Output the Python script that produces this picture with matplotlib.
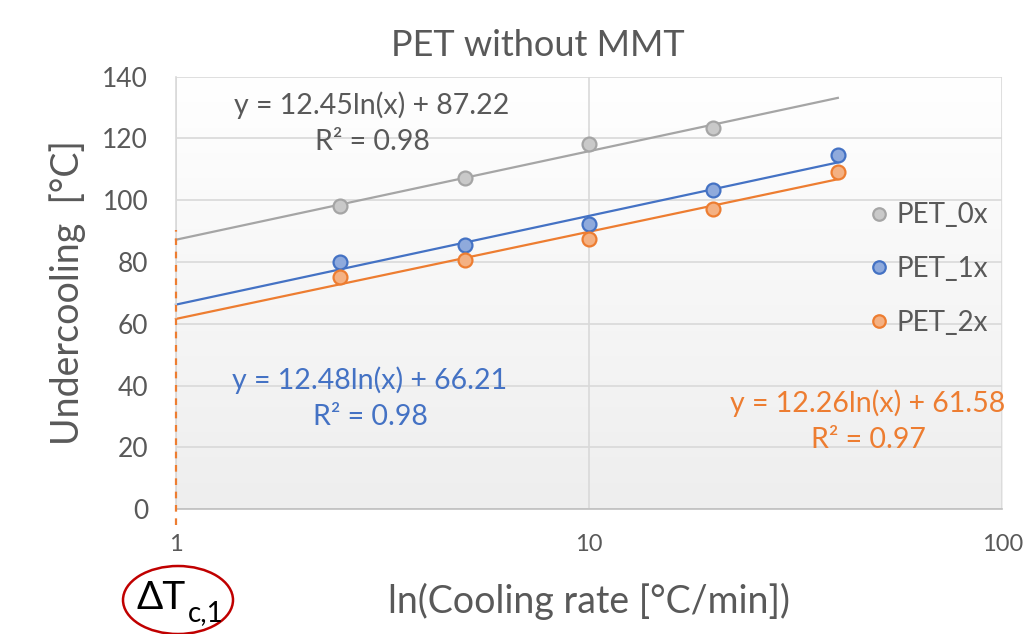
"""PET without MMT — undercooling vs cooling rate with log trendlines."""
import numpy as np
import matplotlib
matplotlib.use("Agg")
import matplotlib.pyplot as plt
from matplotlib.colors import LinearSegmentedColormap
from matplotlib.patches import Ellipse

plt.rcParams["font.family"] = ["Lato", "DejaVu Sans"]

# ----------------------------------------------------------------------
# data
# ----------------------------------------------------------------------
series = ["PET_0x", "PET_1x", "PET_2x"]
rate_0x = [2.5, 5, 10, 20]
rate_12x = [2.5, 5, 10, 20, 40]
under_0x = [98.2, 107.2, 118.2, 123.4]
under_1x = [80.0, 85.5, 92.3, 103.3, 114.6]
under_2x = [75.2, 80.6, 87.5, 97.3, 109.3]
slopes = [12.45, 12.48, 12.26]
intercepts = [87.22, 66.21, 61.58]
r2 = ["0.98", "0.98", "0.97"]
y_ticks = [0, 20, 40, 60, 80, 100, 120, 140]
x_ticks = [1, 10, 100]

GRAY_T = "#595959"
line_cols = ["#a5a5a5", "#4472c4", "#ed7d31"]
face_cols = ["#c9c9c9", "#8faadc", "#f4b183"]
text_cols = [GRAY_T, "#4472c4", "#ed7d31"]

fig = plt.figure(figsize=(10.29, 6.34), dpi=100)
ax = fig.add_axes([0.171, 0.197, 0.803, 0.682])

# background gradient, white at top -> light gray at bottom
grad = np.linspace(1, 0, 256).reshape(-1, 1)
cmap = LinearSegmentedColormap.from_list("bg", ["#eeeeee", "#ffffff"])
ax.imshow(grad, extent=[0, 1, 0, 1], transform=ax.transAxes, aspect="auto",
          cmap=cmap, zorder=0, origin="upper")
ax.set_xscale("log")
ax.set_autoscale_on(False)
ax.set_xlim(1, 100)
ax.set_ylim(0, 140)

ax.set_axisbelow(True)
ax.grid(True, which="major", color="#d9d9d9", lw=1.2, zorder=0.5)
for s in ("top", "right"):
    ax.spines[s].set_visible(False)
ax.spines["left"].set_color("#d9d9d9")
ax.spines["bottom"].set_color("#bfbfbf")
ax.spines["left"].set_linewidth(1.2)
ax.spines["bottom"].set_linewidth(1.2)

ax.set_yticks(y_ticks)
ax.set_xticks(x_ticks)
ax.set_xticklabels([str(t) for t in x_ticks])
ax.minorticks_off()
ax.tick_params(axis="y", length=0, labelsize=19, labelcolor=GRAY_T, pad=20)
ax.tick_params(axis="x", length=0, labelsize=17, labelcolor=GRAY_T, pad=18)

# trendlines (from the fitted equations) and points
xs = [rate_0x, rate_12x, rate_12x]
ys = [under_0x, under_1x, under_2x]
for i in range(3):
    xt = np.geomspace(1, 40, 60)
    ax.plot(xt, slopes[i] * np.log(xt) + intercepts[i], color=line_cols[i],
            lw=1.6, zorder=2, clip_on=False)
for i in range(3):
    ax.plot(xs[i], ys[i], "o", ms=10, mfc=face_cols[i], mec=line_cols[i],
            mew=1.6, zorder=3, clip_on=False, label=series[i])

# equations
eq_pos = [(372, 105), (370, 380), (868, 403)]
for i, (px, py) in enumerate(eq_pos):
    fx, fy = px / 1029, 1 - py / 634
    fig.text(fx, fy, f"y = {slopes[i]:.2f}ln(x) + {intercepts[i]:.2f}",
             color=text_cols[i], fontsize=20.5, ha="center", va="center")
    fig.text(fx, fy - 37 / 634, f"R² = {r2[i]}",
             color=text_cols[i], fontsize=20.5, ha="center", va="center")

# legend
leg = ax.legend(loc="center left", bbox_to_anchor=(0.80, 0.555), frameon=False,
                fontsize=20, labelcolor=GRAY_T, handletextpad=0.05,
                labelspacing=1.0, handlelength=1.2, markerscale=0.9)

fig.text(538 / 1029, 1 - 45 / 634, "PET without MMT", fontsize=26,
         color=GRAY_T, ha="center", va="center")
ax.set_ylabel("Undercooling  [°C]", fontsize=27, color=GRAY_T, labelpad=12)
ax.set_xlabel("ln(Cooling rate [°C/min])", fontsize=27, color=GRAY_T, labelpad=20)

# dashed marker at x=1
ax.axvline(1, ymin=-0.037, ymax=0.646, color="#ed7d31", ls=(0, (3, 3)),
           lw=1.6, clip_on=False, zorder=4)

# circled ΔT_c,1 annotation
fig.text(161 / 1029, 1 - 598 / 634, "ΔT", fontsize=28, color="black",
         ha="center", va="center")
fig.text(206 / 1029, 1 - 613 / 634, "c,1", fontsize=20, color="black",
         ha="center", va="center")
fig.add_artist(Ellipse((178 / 1029, 1 - 600 / 634), 110 / 1029, 68 / 634,
                       transform=fig.transFigure, fill=False,
                       edgecolor="#c00000", lw=1.8))

fig.savefig("out.png", dpi=100)
